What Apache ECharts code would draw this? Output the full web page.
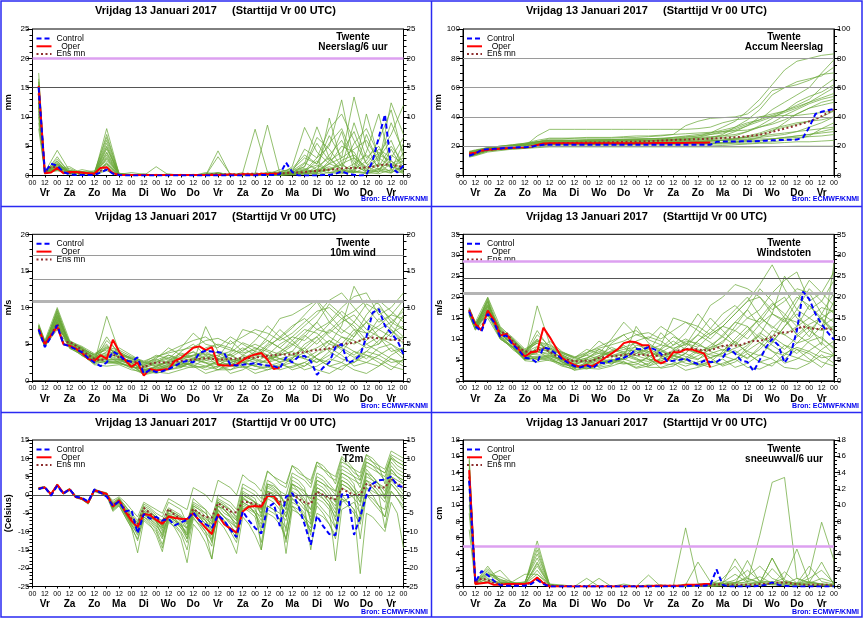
<!DOCTYPE html>
<html><head><meta charset="utf-8">
<script src="https://cdn.jsdelivr.net/npm/echarts@6/dist/echarts.min.js"></script>
<style>html,body{margin:0;padding:0;background:#fff;}#c{width:863px;height:619px;}</style>
</head><body><div id="c"></div>
<script>
// ---------- time axis ----------
const hours = [6,12,18,24,30,36,42,48,54,60,66,72,78,84,90,96,102,108,114,120,126,132,138,144,150,156,162,168,174,180,
  186,192,198,204,210,216,222,228,234,240,246,252,258,264,270,276,282,288,294,300,306,312,318,324,330,336,342,348,354,360];
const operHours = hours.slice(0, 40);
const memberHours = [6,12,24,36,48,60,72,84,96,108,120,132,144,156,168,180,192,204,216,228,240,252,264,276,288,300,312,324,336,348,360];
const hourLabels = ['00', '12'];
const dayNames = ['Vr','Za','Zo','Ma','Di','Wo','Do','Vr','Za','Zo','Ma','Di','Wo','Do','Vr'];
const titleText = 'Vrijdag 13 Januari 2017     (Starttijd Vr 00 UTC)';
const sourceText = 'Bron: ECMWF/KNMI';
const legendNames = ['Control', 'Oper', 'Ens mn'];

// ---------- Neerslag/6 uur ----------
const precipControl = [15.0,0.5,2.0,1.7,0.6,0.2,0.1,0.1,0.1,0.1,0.5,1.0, 0.3,0.1,0,0,0,0,0,0,0,0,0,0,
  0,0,0,0,0,0,0,0,0,0,0,0, 0.1,0.1,0.1,0.2,2.2,0.6,0,0,0,0,0.1,0.1, 0.3,0.7,0.3,0.1,0,0.1,2.5,6.5,10.4,1.5,0.5,1.7];
const precipOper = [15.3,0.4,0.5,1.3,0.4,0.6,0.6,0.5,0.4,0.3,1.3,1.4, 0.4,0.1,0.1,0.1,0.1,0.1,0.1,0.1,0.1,0.1,0.1,0.1,
  0.1,0.1,0.1,0.1,0.1,0.1,0.1,0.2,0.1,0.2,0.2,0.1, 0.3,0.2,0.3,0.3];
const precipMean = [14.0,0.5,1.5,1.4,0.5,0.4,0.4,0.3,0.3,0.3,0.8,1.1, 0.4,0.1,0.1,0.1,0.1,0.1,0.1,0.1,0.1,0.1,0.1,0.1,
  0.1,0.1,0.1,0.1,0.2,0.2,0.2,0.2,0.2,0.3,0.3,0.3, 0.3,0.3,0.4,0.4,0.4,0.5,0.5,0.6,0.7,0.8,0.9,1.0,
  1.1,1.2,1.3,1.3,1.3,1.4,1.5,1.7,1.9,1.8,1.6,1.5];
const precipMembers = [
  [16,0.5, 1.5,0.5,0.4,0.3,3.0, 0.2,0.1,0,0.1,0, 0,0.1,0.2,0.5,0.1, 0.3,0.2,0.5,0.6,1.2, 3.5,2.0,5.5,8.0,3.0, 1.5,4.0,2.0,3.0],
  [12,0.3, 2.5,0.3,0.5,0.2,8.0, 0.3,0,0.1,0,0, 0.1,0,0,3.2,0.2, 0.1,0.3,0.2,1.0,0.5, 0.8,3.0,5.0,12.9,2.5, 0.8,3.0,6.0,1.0],
  [17.5,0.6, 4.3,0.8,0.6,0.5,5.0, 0.2,0.5,0.2,0,0, 0,0,0.3,0.4,0, 0.5,7.9,0.6,0.4,0.3, 1.0,0.5,2.0,3.0,13.4, 5.0,1.0,2.5,0.5],
  [9,0.4, 1.2,1.5,0.3,0.4,2.0, 0.1,0,0,1.5,0.1, 0,0,0.1,0,0.3, 0.2,0.3,8.6,0.4,0.5, 0.3,0.6,1.0,2.0,0.5, 7.0,2.0,0.5,4.0],
  [14,0.5, 0.8,0.4,1.0,0.6,6.5, 0.4,0,0,0,0, 0.2,0,0,4.2,0.1, 0,0.1,0.3,0.2,0.4, 2.0,8.3,3.0,1.0,0.5, 4.0,10.5,1.5,0.8],
  [11,0.3, 2.0,0.6,0.2,0.3,1.5, 0.1,0,0,0,0.3, 0,0,0,0,0, 0.1,0,0.1,0.4,0.2, 0.6,1.0,0.4,0.8,2.0, 0.5,0.3,1.0,0.6],
  [15.5,0.7, 1.0,0.9,0.5,0.4,4.0, 0.3,0.1,0,0,0, 0.1,0,0.5,0.3,0, 0,0.4,0.2,0.3,0.6, 4.5,3.0,8.0,10.5,6.0, 2.0,1.0,3.5,2.0],
  [13,0.4, 3.2,0.3,0.4,0.2,0.8, 0.1,0,0,0,0, 0,0,0,0.2,0, 0,0.1,0,0.2,0.3, 0.5,0.8,1.5,0.6,1.0, 2.5,6.0,11.2,3.0],
  [16.5,0.5, 1.8,0.5,0.7,0.3,7.0, 0.2,0,0,0,0, 0,0.1,0,0,0, 0.2,0,0.3,0.1,1.5, 8.2,4.0,2.0,5.0,4.0, 0.5,2.0,12.4,7.0],
  [10,0.3, 1.0,1.2,0.3,0.5,3.5, 0.2,0,0,0,0, 0,0,0,0.1,0, 0,0,0.1,0,0.2, 0.4,0.2,0.5,0.3,0.8, 0.4,1.0,0.5,1.5],
  [14.5,0.6, 2.2,0.4,0.5,0.8,2.5, 0.3,0.2,0,0,0, 0,0,0,0,0, 0,0.2,0.4,0.3,0.8, 1.5,6.5,4.5,1.5,9.0, 3.0,5.0,1.0,5.5],
  [12.5,0.4, 1.3,0.6,0.3,0.3,5.5, 0.1,0,0,0,0, 0,0,0,0.5,0, 0,0,0.1,0.5,0.2, 0.3,1.5,3.0,0.7,1.5, 0.8,3.5,7.0,12.0],
  [15,0.5, 2.8,0.7,0.6,0.4,1.0, 0.2,0,0.3,0,0, 0,0,0,0,0.2, 0,0.1,0,0.1,0.3, 0.6,2.5,0.5,1.0,0.4, 1.5,0.6,2.0,0.3],
  [8,0.3, 0.9,0.4,0.4,0.2,4.5, 0.3,0,0,0,0, 0,0,0,0,0, 0,0,0,0.1,0.1, 0.2,0.3,9.8,2.0,3.0, 1.0,0.5,4.5,1.0],
  [13.5,0.5, 1.6,0.5,0.5,0.4,2.2, 0.2,0.1,0,0,0, 0,0,0.3,0,0, 0,0,0.2,0.3,0.6, 1.2,0.4,2.5,7.5,1.0, 10.5,3.0,1.5,2.5],
  [11.5,0.4, 1.1,0.3,0.3,0.3,3.8, 0.2,0,0,0,0, 0,0,0,0,0, 0.1,0,0,0.2,0.4, 0.8,0.6,1.2,0.5,0.6, 0.3,0.8,0.4,1.8],
  [14,0.5, 1.9,0.6,0.5,0.4,2.8, 0.2,0,0,0.2,0, 0,0,0,0,0, 0,0,0.3,0.2,0.8, 2.2,1.0,3.5,6.0,2.0, 3.5,1.5,5.0,2.2],
  [12,0.4, 1.4,0.5,0.4,0.3,6.0, 0.2,0,0,0,0, 0,0.2,0,0.3,0, 0.2,0,0,0.3,0.5, 1.5,5.5,2.5,4.0,7.5, 2.0,4.5,3.0,6.5],
  [16,0.6, 2.0,0.4,0.3,0.5,1.8, 0.1,0,0,0,0, 0,0,0,0,0, 0,0,0.1,0.1,0.3, 0.5,0.3,1.0,1.8,0.7, 0.5,1.2,0.8,0.4],
  [10.5,0.3, 1.7,0.7,0.6,0.3,4.8, 0.3,0,0,0,0, 0,0,0,0,0.1, 0,0,0.2,0.6,1.0, 3.0,2.0,6.8,3.0,4.5, 6.0,2.5,9.0,4.0],
  [13,0.5, 2.4,0.5,0.4,0.4,3.2, 0.2,0,0,0,0, 0,0,0,0,0, 0,0,0,0.2,0.4, 1.0,1.8,0.8,2.6,3.5, 1.2,2.0,1.5,0.9],
  [15,0.5, 1.2,0.8,0.5,0.3,2.0, 0.1,0,0,0,0, 0,0,0,0,0, 0,0.2,0,0.1,0.2, 0.4,0.9,2.0,1.2,5.5, 8.0,3.5,2.5,1.0]
];

// ---------- Accum Neerslag ----------
const accumControl = [13.5,15.0,17.5,18.0,18.2,18.5,18.8,19.0,19.2,19.3,19.5,20.5, 21,21,21,21,21,21,21,21,21,21,21,21,
  21,21,21,21,21,21,21,21,21,21,21,21, 21,21,21,21,23.0,23.2,23.2,23.2,23.3,23.3,23.4,23.5,
  23.8,24.0,24.2,24.3,24.4,24.5,26.0,33.0,42.0,43.5,44.5,45.5];
const accumOper = [15.0,15.5,17.0,17.5,18.0,18.3,18.6,19.0,19.2,19.3,19.8,20.8, 21.8,22,22,22,22,22,22,22,22,22,22,22,
  22,22,22,22,22,22,22.1,22.1,22.2,22.2,22.2,22.2, 22.3,22.4,22.4,22.5];
const accumMean = [14.0,15.0,16.8,17.4,17.8,18.2,18.6,18.9,19.1,19.3,19.8,20.6, 21.3,21.8,22.0,22.1,22.2,22.3,22.4,22.5,22.5,22.6,22.6,22.7,
  22.8,22.9,23.0,23.1,23.2,23.4,23.6,23.8,24.0,24.2,24.4,24.5, 24.7,24.8,25.0,25.2,25.4,25.6,25.8,26.1,26.4,26.8,27.3,27.9,
  28.8,29.8,30.9,32.0,33.1,34.3,35.6,37.0,38.5,40.5,42.8,45.0];
const accumMembers = [
  [15,16, 18,19,20,21,23, 25,25,25.5,25.5,25.5, 25.5,26,26,26.5,27, 28,34,37,39,39.5, 40,42,48,58,60, 62,65,69,70],
  [14,15, 17.5,18.5,19,20,27, 31.5,31.5,31.5,31.5,31.5, 31.5,31.5,31.5,31.5,31.5, 31.5,31.5,32,33,36, 38,39,40,40.5,41, 41,42,43,44],
  [16,17, 19,20,21,22,23, 24,24,24,24.2,24.5, 24.5,24.5,24.5,25,25, 25.5,26,27,29,33, 37,44,52,62,72, 78,80,82,83],
  [13,14, 17,18,19,19.5,21, 22,22,22,22,22, 22,22,22.5,22.5,22.5, 23,23,23,23.5,24, 24.5,25,26,27,28, 30,33,36,40],
  [15,16.5, 18,19,20,21,22, 23,23,23,23.5,23.5, 23.5,24,24,24,24, 24.5,24.5,25,25.5,28, 33,36,38,45,50, 55,60,70,79],
  [12.5,13.5, 16,17,18,18.5,19, 19.5,19.5,19.5,19.5,19.5, 19.5,19.5,19.5,19.5,19.5, 19.5,19.5,19.5,19.5,19.5, 19.5,19.5,19.5,19.7,19.8, 20,20,20,20],
  [14.5,15.5, 18,19,20,20.5,22, 23,23,23,23.5,23.5, 23.5,23.5,23.5,24,24, 24,24,24.5,25,26, 27,30,34,39,44, 50,54,57,62],
  [13.5,14.5, 17,18,18.5,19,20, 21,21,21,21,21, 21,21,21.5,22,22, 22,22,22,22,22, 22.5,23,23.5,25,26, 27,28,30,32],
  [16.5,17.5, 19,20,21,22,24, 25.5,25.5,25.5,26,26, 26,26.5,27,27,27.5, 28,28.5,29,29.5,30, 30.5,31,33,35,38, 42,46,50,52],
  [14,15, 17,18,18.5,19,21, 22,22,22.5,22.5,22.5, 22.5,22.5,22.5,23,23, 23,23.5,23.5,24,24, 24,24.5,25,25,25.5, 26,26.5,27,28],
  [15.5,16.5, 18.5,19.5,20,21,22.5, 23.5,23.5,23.5,23.5,23.5, 24,24,24.5,25,25, 26,27,28,29,31, 33,38,45,55,60, 64,66,68,74],
  [13,14, 16.5,17.5,18,18.5,19.5, 20,20,20,20,20, 20,20,20,20,20, 20,20,20,20.2,20.5, 21,21.5,22,22,22.5, 23,23,23.5,24],
  [14.5,15.5, 17.5,18.5,19,20,21.5, 22.5,22.5,22.5,22.5,22.5, 22.5,22.5,22.5,22.5,23, 23,23,23,23.5,24, 25,27,29,32,34, 36,37,38,40],
  [15,16, 18,19,19.5,20.5,22, 23,23,23,23,23, 23,23,23,23.5,24, 24.5,25,26,28,30, 32,35,38,41,44, 47,50,53,56],
  [13.5,14.5, 17,18,18.5,19,20, 21,21,21,21,21, 21,21,21,21,21, 21,21,21,21.5,21.5, 22,22,22.5,23,24, 25,27,32,36],
  [16,17, 18.5,19.5,20.5,21.5,23, 24,24,24,24,24, 24.5,24.5,25,25,25, 25,25.5,26,26.5,27, 30,34,40,42,44, 48,52,60,66],
  [14,15, 17,18,18.5,19,20.5, 21.5,21.5,21.5,21.5,21.5, 21.5,21.5,22,22,22, 22,22.5,23,23.5,24, 25,26,28,31,33, 35,37,40,44],
  [15,16, 18,19,20,21,22, 23,23,23,23,23.5, 23.5,23.5,23.5,23.5,23.5, 24,24,24,24.5,25, 25.5,26,27,28,29, 30,31,32,33],
  [13.5,14.5, 17,18,18.5,19,20.5, 21.5,21.5,21.5,21.5,21.5, 21.5,21.5,21.5,21.5,21.5, 21.5,22,22,22,22.5, 23,24,26,30,36, 42,46,48,50],
  [15.5,16.5, 18.5,19.5,20.5,21.5,23, 24,24,24,24.5,24.5, 24.5,25,25,25,25.5, 26,26.5,27,28,29, 31,34,37,40,43, 46,50,55,60],
  [14,15, 17.5,18.5,19,19.5,21, 22,22,22,22,22, 22,22,22,22,22, 22,22,22,22,22.5, 23,23.5,24,25,26, 27,28,29,30],
  [16,17, 19,20,20.5,21.5,23, 24,24,24,24,24, 24,24,24,24,24.5, 24.5,25,25.5,26,27, 28,30,33,36,41, 45,49,52,54]
];

// ---------- 10m wind ----------
const windControl = [7.0,4.6,6.0,7.6,5.0,4.7,4.3,3.9,3.1,2.5,2.0,2.5, 4.0,3.5,2.8,2.6,3.2,1.0,1.5,1.2,1.3,1.6,2.0,2.5,
  2.7,2.5,3.8,4.1,4.0,3.9,3.8,2.2,2.1,2.2,2.3,2.4, 2.2,2.1,2.0,1.7,3.2,2.5,3.3,3.4,2.7,0.8,1.8,2.5,
  4.6,5.0,2.4,2.8,3.5,6.0,9.3,9.8,7.5,6.5,5.5,3.6];
const windOper = [7.1,5.0,6.2,7.4,5.0,4.8,4.4,3.8,3.0,2.7,3.5,3.0, 5.6,4.0,2.8,1.9,2.5,0.7,1.6,1.4,1.5,1.6,2.7,3.1,
  3.8,4.5,4.7,4.2,4.6,2.2,2.1,2.1,2.2,2.8,3.3,3.6, 3.8,2.9,1.6,1.8];
const windMean = [7.0,5.0,6.3,7.8,5.2,5.3,4.8,4.2,3.5,3.0,2.8,3.0, 3.6,3.2,2.8,2.6,2.5,1.8,2.3,2.5,2.5,2.5,2.6,2.7,
  2.8,2.9,3.0,3.1,3.0,2.9,2.9,3.0,3.0,3.1,3.1,3.2, 3.3,3.4,3.5,3.6,3.6,3.6,3.8,3.9,4.1,4.2,4.3,4.4,
  4.7,5.0,5.1,5.2,5.5,5.8,5.9,5.8,5.8,5.6,5.6,5.4];
const windMembers = [
  [7.2,5.0, 8.0,5.0,4.0,3.0,3.5, 3.0,2.5,1.5,2.0,2.5, 3.0,3.5,4.0,3.0,2.5, 3.0,4.0,3.5,5.0,6.0, 5.5,7.0,6.5,8.0,9.0, 7.0,6.0,5.5,6.0],
  [6.8,4.8, 9.5,4.5,3.5,2.5,8.8, 4.0,3.0,2.0,2.5,3.0, 2.5,2.0,3.0,4.0,3.5, 2.5,2.0,3.0,3.5,4.0, 6.0,8.0,10.5,9.0,7.0, 5.0,4.0,3.0,2.5],
  [7.5,5.3, 8.5,5.2,4.3,3.2,2.5, 2.5,2.0,1.0,1.5,2.0, 4.0,5.0,3.5,2.0,1.5, 2.5,3.5,5.0,7.0,5.5, 4.0,3.0,2.5,4.0,6.0, 8.0,10.0,8.5,7.0],
  [7.0,4.7, 7.5,4.8,3.8,2.8,4.0, 3.5,3.0,2.5,3.0,4.5, 3.5,3.0,2.5,1.5,2.0, 3.5,4.5,4.0,3.0,2.5, 2.0,3.5,5.0,7.5,12.9, 10.0,8.0,9.0,11.0],
  [7.8,5.5, 10.0,5.5,4.5,3.5,5.0, 3.0,2.0,1.5,1.0,1.5, 2.0,2.5,7.4,4.0,3.0, 2.5,2.0,1.5,2.0,3.0, 5.0,6.0,4.0,3.0,2.5, 4.0,5.5,7.0,5.0],
  [6.6,4.6, 8.2,4.6,4.0,2.6,3.0, 2.8,2.2,0.8,1.2,1.0, 1.5,2.0,1.0,1.5,2.5, 2.0,1.5,2.0,2.5,1.5, 2.0,3.0,2.0,1.5,3.0, 2.5,2.0,3.5,4.5],
  [7.3,5.1, 9.0,5.0,4.2,3.3,3.2, 4.5,3.5,2.5,3.5,3.0, 4.5,6.5,5.0,4.5,6.0, 5.0,4.0,6.0,8.5,9.0, 10.0,11.0,9.0,7.0,6.0, 9.0,11.0,9.5,8.0],
  [7.1,4.9, 8.8,4.9,3.6,2.2,2.0, 2.2,1.5,1.2,2.0,2.5, 2.0,1.8,2.0,2.5,1.0, 1.5,2.5,3.5,2.5,3.0, 4.5,3.0,2.0,2.5,4.0, 3.5,3.0,2.0,1.5],
  [6.9,5.2, 7.2,5.3,4.4,3.0,4.5, 3.8,2.8,2.2,2.8,3.5, 3.0,4.0,3.0,3.5,4.0, 7.0,6.5,5.5,4.5,6.0, 7.5,9.0,11.0,12.0,10.0, 8.0,7.0,6.0,9.0],
  [7.4,5.0, 8.3,4.7,3.9,2.9,2.8, 2.6,1.8,1.8,1.5,2.0, 2.2,2.5,2.0,1.5,1.5, 2.0,1.0,1.5,2.0,2.5, 1.5,2.0,3.0,2.5,1.5, 1.0,2.0,3.0,2.0],
  [7.6,5.4, 9.2,5.1,4.6,3.4,3.8, 3.2,2.7,2.0,2.5,3.5, 2.8,3.0,4.5,5.0,4.5, 3.5,3.0,4.5,6.0,7.5, 8.5,7.0,8.0,10.0,11.5, 12.0,9.0,10.0,12.0],
  [6.7,4.8, 7.8,4.4,3.7,2.4,3.3, 2.9,2.4,1.4,1.8,2.2, 2.0,2.5,3.5,2.8,2.0, 1.8,2.2,2.8,3.5,4.0, 3.0,2.5,3.5,5.0,4.0, 3.0,4.5,5.0,3.5],
  [7.0,5.1, 8.6,5.0,4.1,3.1,6.0, 3.6,3.2,2.6,2.0,2.8, 3.8,3.2,2.8,3.2,5.5, 4.0,5.5,7.5,6.0,5.0, 6.5,8.0,6.0,5.0,7.0, 6.5,5.0,7.5,10.0],
  [7.2,4.9, 9.8,4.9,3.4,2.6,2.4, 2.4,1.9,1.6,1.3,1.8, 2.4,2.2,1.5,2.0,2.5, 3.0,2.5,2.0,1.5,2.0, 2.5,1.5,1.0,2.0,2.5, 3.5,2.5,1.5,3.0],
  [7.3,5.2, 8.1,5.4,4.3,3.6,4.2, 3.4,2.6,1.9,2.2,2.6, 3.2,3.5,3.8,3.0,3.5, 4.5,3.5,3.0,4.0,5.0, 4.0,5.5,7.0,6.0,5.0, 6.0,8.5,7.0,5.5],
  [6.5,4.7, 7.0,4.6,3.8,2.7,2.6, 2.7,2.3,1.7,2.4,1.5, 1.8,3.0,2.5,2.2,3.0, 2.5,3.0,2.5,3.0,3.5, 3.0,4.0,5.5,4.5,3.5, 5.0,6.0,4.0,4.5],
  [7.0,5.0, 8.9,5.1,4.5,3.2,3.6, 3.3,2.1,1.1,1.7,2.3, 2.6,2.8,3.3,2.6,3.2, 4.2,5.0,4.2,3.6,4.8, 6.2,5.0,6.8,8.5,7.5, 5.5,7.0,8.0,9.5],
  [7.4,5.2, 9.3,4.8,3.9,2.8,5.5, 3.9,3.1,2.4,2.9,2.4, 1.8,2.6,4.2,3.8,2.8, 2.2,3.2,4.8,5.8,7.2, 9.0,10.8,8.0,6.5,8.0, 10.5,9.5,7.5,6.0],
  [6.8,4.9, 7.6,4.9,4.2,3.1,2.9, 2.9,2.5,1.3,1.9,2.7, 3.5,3.9,2.8,2.4,2.2, 2.8,3.8,3.2,2.6,3.2, 3.8,4.5,5.5,4.2,3.2, 4.0,3.5,2.5,2.8],
  [7.5,5.1, 8.4,5.3,4.0,3.0,4.8, 3.1,2.7,2.1,3.2,4.0, 4.8,5.5,6.0,4.8,4.2, 3.8,4.2,5.5,4.5,3.5, 4.5,6.0,7.8,9.5,8.0, 6.5,7.5,9.0,8.5],
  [7.1,4.8, 8.0,4.7,3.7,2.5,3.4, 2.5,1.7,0.9,1.4,1.9, 2.2,2.9,2.4,1.8,3.8, 5.2,4.5,3.5,3.0,2.8, 3.5,2.5,4.0,6.0,5.5, 4.5,5.0,6.5,7.5],
  [7.2,5.0, 9.6,5.2,4.4,3.5,4.4, 3.7,3.0,2.3,2.6,3.2, 2.9,3.4,3.6,3.4,2.7, 3.3,2.8,2.4,3.8,5.5, 7.0,6.5,5.0,4.5,6.5, 8.0,6.0,5.0,4.0],
  [6.9,4.7, 7.9,4.5,3.5,2.3,2.7, 2.3,2.0,1.5,1.6,2.1, 2.5,2.0,1.8,2.8,3.6, 2.6,2.0,1.8,2.2,1.8, 2.5,3.5,4.5,3.5,2.0, 2.5,3.5,4.5,3.0],
  [7.6,5.3, 8.7,5.4,4.7,3.7,4.6, 4.2,3.3,2.7,3.3,3.8, 4.2,4.6,5.5,5.8,5.0, 6.0,7.0,6.5,5.5,6.5, 8.0,9.5,10.0,8.5,9.5, 11.0,10.5,8.0,7.0]
];

// ---------- Windstoten ----------
const gustControl = [16.5,13.0,11.8,16.0,14.0,10.5,10.8,8.7,7.3,5.5,5.3,4.3, 8.0,7.6,6.5,5.2,4.3,3.5,3.2,3.7,3.0,4.3,4.2,4.8,
  5.2,5.5,6.2,7.6,7.5,8.0,7.5,6.5,4.7,4.8,5.0,5.3, 4.5,4.0,4.8,4.5,4.5,5.5,7.8,6.5,4.8,4.5,2.3,5.0,
  8.0,10.0,8.5,4.3,6.5,12.0,21.3,19.5,16.0,13.5,11.5,9.8];
const gustOper = [16.8,13.5,12.0,16.8,14.5,10.8,11.2,9.0,7.5,5.8,6.8,7.0, 12.7,10.5,8.0,5.5,4.5,3.8,3.3,3.8,3.5,4.5,5.5,6.5,
  7.5,9.0,9.4,9.2,8.5,8.5,5.0,4.2,4.8,6.8,6.8,7.5, 7.5,7.0,6.5,3.2];
const gustMean = [17.0,13.5,12.5,16.5,14.5,11.5,11.5,9.5,8.0,7.0,7.0,7.2, 7.8,7.0,6.0,5.3,5.0,4.7,4.7,4.8,4.8,5.5,5.7,5.8,
  6.0,6.2,6.3,6.3,6.2,6.1,6.0,6.0,6.5,7.0,7.3,7.5, 7.8,7.5,7.3,7.3,7.8,8.3,8.5,8.4,8.6,9.2,9.5,9.5,
  10.0,10.5,11.3,11.6,11.6,12.4,13.0,12.6,12.4,12.4,12.5,12.0];
const gustMembers = [
  [16.5,13.0, 17.0,11.0,9.0,6.0,7.0, 6.5,5.0,4.0,5.0,6.0, 7.0,8.0,9.0,7.0,6.0, 7.0,9.0,8.0,11.0,13.0, 12.0,15.0,14.0,18.0,20.0, 15.0,13.0,12.0,13.0],
  [16.0,12.5, 19.5,10.0,8.0,5.0,17.9, 9.0,6.0,4.5,5.5,7.0, 6.0,5.0,6.5,8.5,7.5, 6.0,5.0,7.0,8.0,9.0, 13.0,17.0,22.0,19.0,15.0, 11.0,9.0,7.0,6.0],
  [17.0,13.5, 18.0,12.0,9.5,6.5,5.0, 5.5,4.5,3.0,4.0,5.0, 9.0,11.0,8.0,5.0,4.0, 6.0,8.0,11.0,15.0,12.0, 9.0,7.0,6.0,9.0,13.0, 17.0,22.0,19.0,16.0],
  [16.2,12.8, 16.5,11.5,8.5,5.5,8.0, 7.5,6.5,5.5,6.5,9.5, 7.5,6.5,5.5,3.5,4.5, 7.5,9.5,9.0,7.0,6.0, 5.0,8.0,11.0,16.0,25.0, 21.0,17.0,19.0,24.0],
  [17.5,14.0, 20.0,13.0,10.0,7.0,10.0, 6.5,4.5,3.5,3.0,3.5, 4.5,5.5,13.0,9.0,7.0, 6.0,5.0,3.5,4.5,7.0, 10.0,13.0,9.0,7.0,6.0, 9.0,12.0,15.0,11.0],
  [15.8,12.2, 16.8,10.5,9.0,5.0,5.5, 6.0,4.8,2.5,3.0,2.8, 3.5,4.5,3.0,3.5,5.5, 4.5,3.5,4.5,5.5,3.5, 4.5,6.5,4.5,3.5,6.5, 5.5,4.5,7.5,9.5],
  [16.8,13.2, 18.5,11.8,9.5,7.0,6.5, 9.5,7.0,5.5,7.5,6.5, 10.0,14.0,11.0,10.0,13.0, 11.0,8.5,13.0,18.0,20.0, 23.0,22.0,20.0,16.0,14.0, 19.0,24.0,21.0,18.0],
  [16.4,12.6, 17.8,10.8,8.0,4.8,4.5, 5.0,3.5,2.8,4.5,5.5, 4.5,4.0,4.5,5.5,3.0, 3.5,5.5,7.5,5.5,6.5, 9.5,6.5,4.5,5.5,8.5, 7.5,6.5,4.5,3.5],
  [16.1,13.4, 15.5,12.2,10.0,6.2,9.5, 8.0,6.2,4.8,6.2,7.5, 6.5,8.5,6.5,7.5,8.5, 15.0,14.0,12.0,10.0,13.0, 16.0,19.0,23.0,27.7,22.0, 17.0,15.0,13.0,19.0],
  [16.6,12.9, 17.0,11.2,8.8,5.8,5.8, 5.6,3.8,3.8,3.2,4.2, 4.6,5.2,4.2,3.2,3.2, 4.2,2.5,3.2,4.2,5.2, 3.2,4.2,6.2,5.2,3.2, 2.8,4.2,6.2,4.2],
  [17.2,13.6, 18.8,11.6,10.2,6.8,8.2, 6.8,5.8,4.2,5.2,7.5, 6.0,6.5,9.5,10.5,9.5, 7.5,6.5,9.5,12.5,16.0, 18.0,15.0,17.0,21.0,24.0, 26.0,19.0,21.0,26.0],
  [15.9,12.4, 16.2,10.2,8.2,5.2,7.0, 6.2,5.2,3.2,3.8,4.8, 4.2,5.2,7.5,6.0,4.2, 3.8,4.8,6.0,7.5,8.5, 6.5,5.5,7.5,10.5,8.5, 6.5,9.5,10.5,7.5],
  [16.7,13.0, 17.5,11.4,9.2,6.4,12.0, 7.8,6.8,5.8,4.2,6.0, 8.0,6.8,6.0,6.8,11.5, 8.5,11.5,16.0,12.5,10.5, 14.0,17.0,13.0,10.5,15.0, 14.0,10.5,16.0,21.0],
  [16.3,12.7, 19.0,10.6,7.5,5.4,5.2, 5.2,4.0,3.4,2.8,3.8, 5.0,4.6,3.2,4.2,5.2, 6.2,5.2,4.2,3.2,4.2, 5.2,3.2,2.8,4.2,5.2, 7.5,5.2,3.2,6.5],
  [16.9,13.3, 17.2,12.4,9.8,7.4,9.0, 7.2,5.6,4.0,4.6,5.6, 6.8,7.5,8.0,6.5,7.5, 9.5,7.5,6.5,8.5,10.5, 8.5,11.5,15.0,13.0,11.0, 13.0,18.0,15.0,12.0],
  [15.6,12.1, 15.0,10.0,8.1,5.6,5.4, 5.8,4.9,3.6,5.2,3.2, 3.8,6.5,5.2,4.6,6.5, 5.2,6.5,5.2,6.5,7.5, 6.5,8.5,11.5,9.5,7.5, 10.5,13.0,8.5,28.0],
  [16.6,13.1, 18.2,12.0,9.6,6.6,7.5, 7.0,4.5,3.4,4.2,5.3, 5.8,6.2,7.0,5.8,6.8, 8.5,10.0,8.5,7.5,9.5, 12.0,10.0,13.5,16.0,14.5, 11.0,13.5,15.0,17.0],
  [17.0,13.4, 19.2,11.2,8.9,6.0,11.0, 8.3,6.6,5.2,6.1,5.2, 4.0,5.6,8.5,7.8,6.0, 4.8,6.6,9.6,11.5,14.0, 17.0,20.0,15.5,12.5,15.5, 20.0,18.0,14.5,12.0],
  [16.0,12.6, 16.0,11.3,9.1,6.5,6.2, 6.0,5.1,3.0,4.0,5.6, 7.2,8.0,6.0,5.1,4.8, 5.8,7.8,6.6,5.5,6.6, 7.8,9.0,10.8,8.5,6.5, 8.0,7.0,5.5,6.0],
  [16.9,13.2, 17.6,12.6,9.2,6.7,9.8, 6.6,5.8,4.5,6.6,8.2, 9.5,11.0,12.0,9.8,8.6, 7.8,8.6,11.0,9.2,7.2, 9.2,12.0,15.0,18.5,16.0, 13.0,15.0,17.5,16.5],
  [16.3,12.5, 16.8,10.4,8.3,5.3,7.2, 5.3,3.8,2.6,3.4,4.3, 4.8,6.0,5.0,3.8,7.8, 10.5,9.0,7.2,6.2,5.8, 7.2,5.2,8.2,12.0,11.0, 9.0,10.0,13.0,15.0],
  [16.5,12.9, 19.8,11.9,9.7,7.1,9.0, 7.6,6.2,4.8,5.4,6.6, 6.0,7.0,7.4,7.0,5.6, 6.8,5.8,5.0,7.8,11.0, 14.0,13.0,10.2,9.2,13.0, 16.0,12.0,10.0,8.0],
  [15.7,12.3, 15.8,10.1,7.8,5.0,5.6, 4.8,4.2,3.2,3.4,4.4, 5.2,4.2,3.8,5.8,7.4, 5.4,4.2,3.8,4.6,3.8, 5.2,7.2,9.2,7.2,4.2, 5.2,7.2,9.2,6.2],
  [17.3,13.7, 18.0,12.8,10.4,7.6,9.4, 8.6,6.8,5.6,6.8,7.8, 8.6,9.5,11.0,11.5,10.0, 12.0,14.0,13.0,11.0,13.0, 16.0,19.0,20.0,17.0,19.0, 22.0,21.0,16.0,14.0]
];

// ---------- T2m ----------
const t2mControl = [1.6,2.2,-0.2,2.5,0.3,1.6,-0.5,-0.8,-1.8,1.5,0.6,-0.5, -3.0,-1.8,-4.5,-4.1,-10.5,-5.2,-6.5,-6.0,-7.0,-6.5,-8.3,-7.5,
  -6.8,-4.8,-7.0,-8.0,-9.0,-5.5,-7.0,-9.5,-11.5,-4.5,-7.0,-9.0, -10.5,-3.5,-2.3,-8.5,-0.5,0.5,-3.0,-8.0,-13.6,-5.7,-8.5,-10.7,
  -11.0,0.2,0.0,-10.9,-6.0,0.0,3.0,4.0,4.2,5.0,2.5,2.2];
const t2mOper = [1.8,2.0,0.2,2.8,0.5,1.5,-0.6,-1.0,-2.1,1.3,0.8,0.3, -3.2,-1.5,-4.5,-7.0,-8.8,-5.2,-5.5,-6.8,-7.9,-5.9,-6.3,-6.5,
  -6.6,-5.0,-7.0,-9.0,-10.7,-5.3,-8.0,-9.2,-10.3,-4.5,-3.2,-3.0, -3.2,-0.3,-0.3,-2.8];
const t2mMean = [1.6,2.0,0.0,2.6,0.4,1.5,-0.5,-1.0,-2.0,1.2,0.5,0.0, -2.8,-1.5,-4.0,-6.5,-8.0,-3.5,-5.0,-6.5,-7.5,-3.8,-5.5,-6.5,
  -7.0,-3.8,-5.0,-6.0,-6.2,-2.2,-3.5,-4.5,-4.8,-1.8,-2.0,-2.5, -3.0,0.6,-0.5,-1.8,-2.0,0.4,-1.0,-2.0,-2.5,0.9,0.0,-0.8,
  -1.2,1.7,0.8,0.0,0.0,3.0,2.5,2.0,2.0,4.4,3.0,2.2];
const t2mMembers = [
  [1.6,2.1,0.0,2.6, 0.3,1.3,-0.7,-1.2, -2.3,1.0,0.5,-0.2, -3.5,-2.0,-5.0,-8.0, -11.0,-6.0,-7.0,-9.0, -12.0,-6.5,-8.0,-10.0, -13.0,-6.0,-8.5,-11.0, -14.0,-4.0,-6.0,-7.0, -9.0,-1.0,-2.0,-3.0, -5.0,1.0,0.5,-0.5, -2.0,3.0,2.0,1.0, -1.0,4.0,3.0,2.0, 1.0,6.0,5.0,4.0, 3.0,8.0,7.0,6.0, 5.0,10.0,9.0,8.0],
  [2.0,2.3,0.4,3.0, 0.7,1.8,-0.2,-0.8, -1.8,1.5,0.9,0.0, -4.0,-2.5,-5.5,-8.5, -12.5,-6.5,-8.0,-11.0, -15.5,-7.0,-9.0,-12.0, -18.5,-8.0,-10.0,-13.0, -17.5,-7.0,-9.0,-12.0, -16.0,-6.0,-8.0,-11.0, -15.0,-5.0,-6.0,-8.0, -12.0,-3.0,-5.0,-7.0, -10.0,-2.0,-4.0,-6.0, -9.0,-1.0,-3.0,-5.0, -8.0,0.0,-2.0,-4.0, -6.0,1.0,-1.0,-3.0],
  [1.7,1.9,0.1,2.7, 0.4,1.6,-0.4,-1.1, -2.1,1.2,0.7,0.4, -2.5,-1.0,-3.5,-6.0, -8.0,-4.0,-5.0,-6.0, -7.0,-3.5,-4.5,-5.5, -7.5,-3.0,-4.0,-6.0, -8.0,-2.0,-3.0,-4.0, -6.0,0.0,-1.0,-2.0, -4.0,2.0,1.0,0.0, -3.0,4.0,3.0,1.0, -2.0,5.0,4.0,2.0, 0.0,7.0,6.0,5.0, 4.0,9.0,8.0,7.0, 6.0,11.0,10.0,9.0],
  [1.9,2.2,0.3,2.9, 0.6,1.4,-0.6,-0.9, -1.9,1.4,0.8,0.2, -3.2,-1.6,-4.8,-7.5, -9.5,-5.5,-6.0,-7.5, -9.0,-5.0,-6.5,-8.5, -10.5,-4.0,-6.0,-8.0, -12.0,-5.0,-7.0,-10.0, -13.0,-4.0,-3.0,-2.0, -3.0,1.0,0.0,-2.0, -6.0,-1.0,-3.0,-6.0, -10.0,-3.0,-5.0,-8.0, -12.0,-2.0,-1.0,0.0, 1.0,4.0,3.0,1.0, -1.0,3.0,1.0,-2.0],
  [1.5,1.8,-0.1,2.5, 0.2,1.2,-0.8,-1.3, -2.5,0.9,0.4,0.1, -1.5,-0.5,-2.0,-4.0, -6.0,-2.0,-3.0,-4.0, -5.0,-1.0,-2.0,-3.0, -4.0,2.0,1.0,0.0, -2.0,4.0,3.0,2.0, 0.0,5.5,4.0,3.0, 1.0,6.5,5.0,4.0, 3.0,8.0,7.0,5.0, 4.0,9.0,8.0,6.0, 5.0,10.5,9.0,7.0, 6.0,11.0,10.0,8.0, 7.0,12.0,11.0,10.0],
  [1.8,2.0,0.2,2.8, 0.5,1.5,-0.5,-1.0, -2.0,1.3,0.6,-0.3, -4.5,-3.0,-6.0,-9.0, -15.8,-7.0,-8.5,-10.0, -14.5,-6.0,-7.0,-9.0, -12.0,-5.0,-7.5,-10.0, -17.5,-6.0,-8.0,-9.0, -10.0,-3.0,-4.0,-5.0, -8.0,-1.0,-2.0,-4.0, -16.0,-4.0,-5.0,-7.0, -9.0,0.0,-1.0,-3.0, -6.0,2.0,1.0,-1.0, -3.0,4.0,2.0,0.0, -2.0,5.0,3.0,1.0],
  [1.7,2.1,0.3,2.7, 0.5,1.4,-0.4,-1.1, -2.2,1.1,0.9,0.5, -2.0,-0.8,-3.0,-5.0, -7.0,-3.0,-4.0,-5.5, -8.5,-4.0,-5.0,-6.0, -9.0,-2.0,-3.0,-4.0, -6.0,-1.0,-2.0,-3.0, -5.0,2.0,1.0,0.0, -2.0,4.0,3.0,1.0, -4.0,3.0,1.0,-2.0, -7.0,1.0,-1.0,-3.0, -9.0,0.0,-2.0,-4.0, -21.5,-5.0,-6.0,-8.0, -10.0,-2.0,-5.0,-14.5],
  [1.6,1.9,0.0,2.6, 0.4,1.7,-0.3,-0.8, -1.7,1.6,1.0,0.6, -3.8,-2.2,-5.2,-7.8, -10.0,-5.0,-6.5,-8.0, -11.0,-5.5,-7.0,-8.5, -10.0,-3.0,-4.0,-5.0, -7.0,0.0,-1.0,-2.0, -4.0,3.0,2.0,1.0, -1.0,6.5,5.0,3.0, 2.0,8.0,6.0,5.0, 3.0,9.0,7.0,5.0, 4.0,10.0,8.0,6.0, 5.0,11.0,9.0,7.0, 6.0,10.0,8.0,7.0],
  [1.8,2.0,0.2,2.9, 0.6,1.5,-0.6,-1.2, -2.3,1.2,0.6,-0.1, -3.3,-1.8,-4.3,-6.5, -9.0,-4.5,-5.5,-7.0, -10.0,-4.0,-5.5,-7.5, -12.0,-5.5,-7.0,-9.0, -11.0,-3.0,-4.0,-6.0, -9.0,-2.0,-3.0,-5.0, -10.0,-3.0,-4.0,-7.0, -12.0,-3.0,-4.0,-6.0, -8.0,-1.0,-2.0,-4.0, -18.0,-4.0,-3.0,-2.0, -5.0,2.0,0.0,-3.0, -4.0,4.0,2.0,0.0],
  [1.9,2.1,0.1,2.8, 0.5,1.6,-0.5,-1.0, -2.0,1.3,0.8,0.2, -3.0,-1.5,-4.5,-7.0, -8.5,-5.0,-5.5,-7.0, -8.0,-6.0,-6.0,-6.5, -6.5,-5.0,-7.0,-9.0, -10.5,-5.0,-8.0,-9.5, -10.5,-4.5,-3.5,-3.0, -3.5,-0.5,-0.5,-2.5, -5.0,0.0,-1.0,-3.0, -15.0,-5.0,-6.0,-8.0, -11.0,-1.0,-2.0,-4.0, -7.0,2.0,1.0,0.0, 0.0,5.0,4.0,3.0],
  [1.7,2.0,0.2,2.8, 0.4,1.5,-0.4,-0.9, -2.0,1.3,0.7,0.3, -2.8,-1.2,-3.8,-6.0, -7.5,-2.5,-3.5,-5.0, -6.0,-2.0,-3.0,-4.0, -8.0,-1.0,-2.5,-4.0, -10.0,-2.0,-4.0,-6.0, -8.0,0.0,-1.0,-2.0, -15.0,-3.0,-4.0,-5.0, -7.0,1.0,0.0,-2.0, -4.0,3.0,2.0,0.0, -2.0,5.0,4.0,2.0, 0.0,7.0,5.0,3.0, 2.0,8.0,6.0,5.0],
  [1.8,2.0,0.2,2.8, 0.5,1.5,-0.5,-1.0, -2.1,1.3,0.8,0.3, -3.5,-2.0,-5.0,-7.5, -9.0,-5.5,-6.0,-7.0, -9.5,-6.5,-7.5,-9.0, -11.0,-4.0,-5.0,-6.5, -8.0,-2.0,-3.0,-5.0, -7.0,1.0,0.0,-1.0, -6.0,3.0,2.0,0.0, -10.0,0.0,-1.0,-3.0, -6.0,2.0,1.0,-1.0, -4.0,4.0,3.0,1.0, -2.0,6.0,5.0,3.0, 1.0,7.0,5.0,3.0],
  [1.9,2.2,0.3,2.9, 0.6,1.6,-0.5,-1.1, -2.2,1.1,0.7,0.1, -4.2,-2.8,-6.0,-9.0, -12.0,-6.0,-7.5,-9.5, -13.5,-7.5,-8.5,-10.5, -15.0,-6.5,-8.0,-10.0, -12.5,-5.5,-7.0,-9.0, -12.0,-3.5,-4.5,-6.0, -13.0,-4.0,-5.0,-6.5, -9.0,-1.0,-2.0,-4.0, -5.0,2.0,1.0,-1.0, -3.0,4.0,3.0,1.0, -1.0,6.0,4.0,2.0, 0.0,7.0,5.0,4.0],
  [1.6,1.9,0.1,2.6, 0.3,1.4,-0.6,-1.1, -2.4,1.1,0.5,0.0, -2.2,-1.0,-3.0,-5.5, -7.5,-4.5,-5.0,-6.0, -7.5,-5.0,-5.5,-6.5, -8.0,-4.5,-6.0,-7.0, -9.0,-3.0,-4.0,-5.5, -7.0,-1.0,-2.0,-3.0, -4.0,3.0,2.5,1.0, 0.0,6.0,5.0,4.0, 2.0,8.0,7.0,6.0, 3.0,9.0,8.0,7.0, 4.0,10.0,9.0,8.0, 3.0,9.0,7.0,6.0],
  [1.7,2.0,0.2,2.7, 0.5,1.5,-0.5,-1.0, -2.0,1.3,0.8,0.2, -3.6,-2.0,-5.2,-8.2, -10.5,-5.5,-6.5,-8.5, -10.5,-6.0,-7.0,-8.0, -9.0,-3.5,-5.0,-7.0, -11.0,-3.0,-5.0,-6.0, -8.0,-0.5,-2.0,-4.0, -7.0,0.0,-1.0,-3.0, -13.0,-2.0,-3.0,-5.0, -11.0,1.0,0.0,-2.0, -7.0,3.0,2.0,0.0, -12.0,0.0,-1.0,-3.0, -6.0,3.0,1.0,-1.0],
  [1.8,2.1,0.2,2.8, 0.5,1.5,-0.5,-1.0, -2.1,1.2,0.7,0.2, -2.7,-1.3,-4.0,-6.5, -8.0,-3.5,-4.5,-6.0, -9.0,-4.5,-5.0,-6.0, -7.0,-2.5,-3.5,-5.0, -7.5,-1.5,-2.5,-4.0, -6.5,0.5,-0.5,-2.0, -5.0,2.5,1.5,0.0, -3.0,5.0,4.0,2.0, -8.0,1.0,0.0,-2.0, -5.0,3.0,2.0,1.0, -2.0,5.0,4.0,3.0, -1.0,6.0,5.0,4.0],
  [1.9,2.0,0.3,2.8, 0.4,1.6,-0.4,-1.0, -1.9,1.4,0.9,0.4, -3.0,-1.8,-4.8,-7.2, -9.5,-4.8,-5.8,-7.2, -11.5,-5.5,-6.5,-8.0, -11.0,-4.5,-6.0,-8.0, -13.0,-4.0,-6.0,-8.0, -11.0,-2.0,-3.0,-5.0, -9.0,0.0,-1.0,-3.0, -6.0,2.0,1.0,-1.0, -4.0,4.0,3.0,1.0, -2.0,6.0,5.0,3.0, -6.0,3.0,2.0,0.0, -9.0,1.0,-1.0,-4.0],
  [1.7,2.1,0.1,2.7, 0.5,1.4,-0.6,-1.1, -2.2,1.2,0.6,0.1, -3.3,-1.9,-4.6,-7.0, -9.0,-5.0,-6.0,-7.0, -8.5,-5.5,-6.0,-7.0, -9.5,-4.0,-5.5,-7.0, -10.0,-4.5,-6.0,-7.5, -9.0,-2.5,-3.5,-4.5, -6.0,1.0,0.0,-2.0, -4.0,3.0,2.0,0.0, -1.0,6.0,5.0,3.0, 1.0,8.0,7.0,5.0, 2.0,9.0,8.0,6.0, 4.0,10.5,9.0,8.0]
];

// ---------- sneeuwval/6 uur ----------
const snowControl = [13.0,0.5,1.9,1.4,0.7,0.2,0.1,0.1,0.1,0.1,0.3,0.8, 0.3,0,0,0,0,0,0,0,0,0,0,0,
  0,0,0,0,0,0,0,0,0,0,0,0, 0.1,0.1,0.1,0.2,2.1,0.2,0,0,0,0,0,0.1, 0.2,0.5,0.2,0.1,0,0,0,0,0,0,0,0];
const snowOper = [14.3,0.3,0.4,0.5,0.2,0.2,0.3,0.3,0.3,0.3,0.5,1.1, 0.4,0,0,0,0,0,0,0,0,0,0,0,
  0,0,0,0,0,0,0.1,0.1,0.1,0.1,0.1,0.2, 0.2,0.2,0.3,0.3];
const snowMean = [13.5,0.4,1.0,0.8,0.4,0.3,0.3,0.2,0.3,0.3,0.4,0.9, 0.5,0.1,0.05,0.05,0.05,0.05,0.05,0.05,0.05,0.05,0.05,0.05,
  0.05,0.05,0.05,0.05,0.05,0.05,0.1,0.1,0.1,0.1,0.1,0.1, 0.1,0.1,0.1,0.1,0.3,0.2,0.2,0.2,0.2,0.2,0.2,0.3,
  0.3,0.4,0.5,0.5,0.4,0.3,0.2,0.2,0.2,0.2,0.2,0.1];
const snowMembers = [
  [16,0.5, 2.5,0.5,0.4,0.3,5.6, 0.2,0,0,0,0, 0,0,0,0.2,0, 0,7.2,0.4,0.1,0.5, 1.5,0.5,6.3,12.8,13.4, 1.0,0.5,0.3,0.2],
  [12,0.4, 1.8,0.6,0.3,0.4,4.5, 0.1,0,0,1.0,0, 0,0,0,0,0, 0,0,0.3,0.2,0.4, 3.4,1.0,0.5,0.3,0.6, 0.4,0.2,0.1,0],
  [14,0.5, 1.5,1.2,0.5,0.2,3.0, 0.2,0,0,0,0, 0,0.3,0,1.4,0, 0.1,0.2,3.0,0.6,0.3, 0.8,2.0,0.7,0.5,1.0, 4.6,0.5,0.3,0.1],
  [9,0.3, 1.0,0.4,0.2,0.3,2.0, 0.1,0,0,0,0, 0,0,0,0,0, 0,0,0.1,0.3,1.0, 2.5,0.6,0.4,3.5,0.8, 0.3,1.5,7.9,3.2],
  [15,0.6, 2.2,0.8,0.6,1.5,1.5, 0.3,0.2,0,0,1.0, 0,0,0,0,0, 0,0,0,0.2,0.4, 0.3,3.2,0.5,0.3,1.8, 0.4,2.5,0.6,0.3],
  [7,0.2, 0.7,0.3,0.3,0.2,1.0, 0,0,0,0,0, 0,0,0,0,0, 0,0,0,0,0.1, 0.2,0.1,0.3,0.2,0.1, 0.3,0.2,0.1,0],
  [13,0.5, 1.2,2.0,0.4,0.5,4.0, 0.3,0,0,0,0, 0,0,0,0,0.2, 0,0.3,0.1,0.2,0.2, 0.4,1.2,2.5,1.0,0.4, 0.2,0.5,3.0,0.2],
  [11,0.4, 0.9,0.5,0.5,0.3,2.5, 0.2,0,0,0,0, 0,0,0,0,0, 0,0,0,0.1,0.2, 0.1,0.3,0.5,0.6,0.3, 1.0,0.4,0.2,0.1],
  [15.5,0.7, 1.6,0.9,0.3,0.6,3.5, 0.2,0.1,0,0,0, 0,0,0,0,0, 0,0,0,0.1,0.6, 0.5,0.4,0.3,2.2,0.6, 0.3,1.0,2.0,0.4],
  [10,0.3, 0.6,0.4,0.3,0.3,1.5, 0.1,0,0,0,0, 0,0,0,0,0, 0,0,0,0,0.1, 0.1,0.2,0.1,0.3,0.2, 0.1,0.1,0.2,0.1],
  [12.5,0.4, 1.4,0.7,0.4,0.4,5.0, 0.2,0,0,0,0, 0,0,0,0,0, 0,0,0.2,0.4,0.3, 0.5,1.0,0.4,3.5,0.5, 0.4,0.6,0.3,0.2],
  [14.5,0.5, 2.0,0.5,0.4,0.3,2.8, 0.1,0,0,0,0, 0,0,0,0,0, 0,0,0,0.1,0.2, 0.3,0.6,1.2,0.4,0.3, 0.2,0.4,1.0,0.5]
];

// ---------- threshold lines (values) ----------
const precipThresholds = [20, 15];
const accumThresholds = [20, 40, 60, 80];
const windThresholds = [10.8, 13.9, 17.2];
const gustThresholds = [20.8, 24.6, 28.5];
const t2mThresholds = [0];
const snowThresholds = [5];

// ---------- styles / layout ----------
const FONT = '"Liberation Sans", Arial, Helvetica, sans-serif';
const MAGENTA = {color: '#dda0f0', width: 2.5, type: 'solid'};
const DARK = {color: '#555555', width: 1, type: 'solid'};
const GRAYTHICK = {color: '#b4b4b4', width: 3, type: 'solid'};
const GRAYTHIN = {color: '#9a9a9a', width: 1, type: 'solid'};
const MEMBER_COLOR = 'rgba(105,168,55,0.72)';
const BORDER_BLUE = '#2a2af2';
const colX = [0, 431];
const rowY = [0, 206.5, 412.5];
const gridLeft = [32.5, 463];
const gridTop = [29, 234.3, 440];
const GRID_W = 371, GRID_H = 146.5;

const panels = [
  {col:0,row:0,min:0,max:25,interval:5,minor:5,unit:'mm',place:'Twente',sub:'Neerslag/6 uur',
   control:precipControl,oper:precipOper,mean:precipMean,members:precipMembers,mHours:memberHours,
   th:precipThresholds,thStyle:[MAGENTA,DARK]},
  {col:1,row:0,min:0,max:100,interval:20,minor:4,unit:'mm',place:'Twente',sub:'Accum Neerslag',
   control:accumControl,oper:accumOper,mean:accumMean,members:accumMembers,mHours:memberHours,
   th:accumThresholds,thStyle:[GRAYTHIN,GRAYTHIN,GRAYTHIN,GRAYTHIN]},
  {col:0,row:1,min:0,max:20,interval:5,minor:5,unit:'m/s',place:'Twente',sub:'10m wind',
   control:windControl,oper:windOper,mean:windMean,members:windMembers,mHours:memberHours,
   th:windThresholds,thStyle:[GRAYTHICK,GRAYTHIN,GRAYTHIN]},
  {col:1,row:1,min:0,max:35,interval:5,minor:5,unit:'m/s',place:'Twente',sub:'Windstoten',
   control:gustControl,oper:gustOper,mean:gustMean,members:gustMembers,mHours:memberHours,
   th:gustThresholds,thStyle:[GRAYTHICK,DARK,MAGENTA]},
  {col:0,row:2,min:-25,max:15,interval:5,minor:5,unit:'(Celsius)',place:'Twente',sub:'T2m',
   control:t2mControl,oper:t2mOper,mean:t2mMean,members:t2mMembers,mHours:hours,
   th:t2mThresholds,thStyle:[DARK]},
  {col:1,row:2,min:0,max:18,interval:2,minor:4,unit:'cm',place:'Twente',sub:'sneeuwval/6 uur',
   control:snowControl,oper:snowOper,mean:snowMean,members:snowMembers,mHours:memberHours,
   th:snowThresholds,thStyle:[MAGENTA]}
];

function pairs(xs, ys) {
  const out = [];
  for (let i = 0; i < ys.length && i < xs.length; i++) out.push([xs[i], ys[i]]);
  return out;
}

const grids = [], xAxes = [], yAxes = [], series = [], legends = [], titles = [], graphics = [];

panels.forEach((p, i) => {
  const cx = colX[p.col], ry = rowY[p.row];
  grids.push({left: gridLeft[p.col], top: gridTop[p.row], width: GRID_W, height: GRID_H,
    show: true, borderColor: '#000', borderWidth: 1, backgroundColor: 'transparent', outerBoundsMode: 'none'});
  xAxes.push({type: 'value', gridIndex: i, min: 0, max: 360, interval: 12,
    axisLine: {show: true, onZero: false, lineStyle: {color: '#000', width: 1}},
    axisTick: {show: true, length: 2, lineStyle: {color: '#000'}},
    splitLine: {show: false},
    axisLabel: {color: '#000', fontSize: 7, fontFamily: FONT, margin: 3, lineHeight: 9,
      formatter: v => (v % 24 === 0) ? hourLabels[0] : hourLabels[1] + '\n{d|' + dayNames[Math.floor(v / 24)] + '}',
      rich: {d: {fontSize: 10, fontWeight: 'bold', fontFamily: FONT, color: '#000', lineHeight: 12}}}
  });
  const yBase = {type: 'value', gridIndex: i, min: p.min, max: p.max, interval: p.interval,
    axisLine: {show: true, onZero: false, lineStyle: {color: '#000', width: 1}},
    axisTick: {show: true, length: 6, lineStyle: {color: '#000'}},
    minorTick: {show: true, splitNumber: p.minor, length: 3, lineStyle: {color: '#000'}},
    splitLine: {show: false}, minorSplitLine: {show: false},
    axisLabel: {color: '#000', fontSize: 8, fontFamily: FONT, margin: 3}};
  yAxes.push(Object.assign({}, yBase, {position: 'left', name: p.unit, nameLocation: 'middle', nameGap: 19,
    nameRotate: 90, nameTextStyle: {fontSize: 9, fontWeight: 'bold', color: '#000', fontFamily: FONT}}));
  yAxes.push(Object.assign({}, yBase, {position: 'right'}));

  const xi = i, yi = 2 * i;
  series.push({type: 'line', name: 'drempel', xAxisIndex: xi, yAxisIndex: yi, data: [], silent: true, z: 1,
    markLine: {silent: true, symbol: 'none', animation: false, label: {show: false},
      data: p.th.map((v, k) => ({yAxis: v, lineStyle: p.thStyle[k]}))}});
  p.members.forEach((m, k) => series.push({type: 'line', name: 'lid', xAxisIndex: xi, yAxisIndex: yi,
    data: pairs(p.mHours, m), symbol: 'none', silent: true, z: 2,
    lineStyle: {color: MEMBER_COLOR, width: 1}, itemStyle: {color: MEMBER_COLOR}}));
  series.push({type: 'line', name: 'Ens mn', xAxisIndex: xi, yAxisIndex: yi, data: pairs(hours, p.mean),
    symbol: 'none', z: 3, color: '#8e2f2f', itemStyle: {color: '#8e2f2f'},
    lineStyle: {color: '#8e2f2f', width: 2, type: [2, 2.5]}});
  series.push({type: 'line', name: 'Oper', xAxisIndex: xi, yAxisIndex: yi, data: pairs(operHours, p.oper),
    symbol: 'none', z: 4, color: '#ff0000', itemStyle: {color: '#ff0000'},
    lineStyle: {color: '#ff0000', width: 2}});
  series.push({type: 'line', name: 'Control', xAxisIndex: xi, yAxisIndex: yi, data: pairs(hours, p.control),
    symbol: 'none', z: 5, color: '#0000ff', itemStyle: {color: '#0000ff'},
    lineStyle: {color: '#0000ff', width: 2, type: [5, 3]}});

  legends.push({data: legendNames, orient: 'vertical', left: gridLeft[p.col] + 3, top: gridTop[p.row] + 5,
    itemWidth: 15, itemHeight: 7, itemGap: -1.2, padding: 0, selectedMode: false,
    itemStyle: {opacity: 0, borderWidth: 0},
    formatter: n => (n === 'Oper' ? '  ' + n : n),
    textStyle: {fontSize: 8.5, color: '#000', fontFamily: FONT, lineHeight: 7.5}});

  titles.push({text: titleText, left: cx + 215.5, top: ry + 5, textAlign: 'center', padding: 0,
    textStyle: {fontSize: 11, fontWeight: 'bold', color: '#000', fontFamily: FONT}});
  titles.push({text: p.place + '\n' + p.sub, left: cx + 353, top: ry + 32, textAlign: 'center', padding: 0,
    textStyle: {fontSize: 10, fontWeight: 'bold', color: '#000', fontFamily: FONT, lineHeight: 10}});

  graphics.push({type: 'text', x: cx + 428, y: ry + 199.5, silent: true,
    style: {text: sourceText, fill: '#0000ee', font: 'bold 7px ' + FONT, textAlign: 'right', textVerticalAlign: 'middle',
      align: 'right', verticalAlign: 'middle'}});
});

graphics.push({type: 'rect', silent: true, shape: {x: 1, y: 1, width: 861, height: 616},
  style: {fill: 'none', stroke: BORDER_BLUE, lineWidth: 1.5}});
graphics.push({type: 'line', silent: true, shape: {x1: 431.5, y1: 1, x2: 431.5, y2: 617},
  style: {stroke: BORDER_BLUE, lineWidth: 1.5}});
graphics.push({type: 'line', silent: true, shape: {x1: 1, y1: 206.5, x2: 862, y2: 206.5},
  style: {stroke: BORDER_BLUE, lineWidth: 1.5}});
graphics.push({type: 'line', silent: true, shape: {x1: 1, y1: 412.5, x2: 862, y2: 412.5},
  style: {stroke: BORDER_BLUE, lineWidth: 1.5}});

const chart = echarts.init(document.getElementById('c'), null, {renderer: 'canvas'});
chart.setOption({
  animation: false,
  backgroundColor: '#ffffff',
  textStyle: {fontFamily: FONT},
  title: titles,
  legend: legends,
  grid: grids,
  xAxis: xAxes,
  yAxis: yAxes,
  series: series,
  graphic: graphics
});
</script></body></html>
